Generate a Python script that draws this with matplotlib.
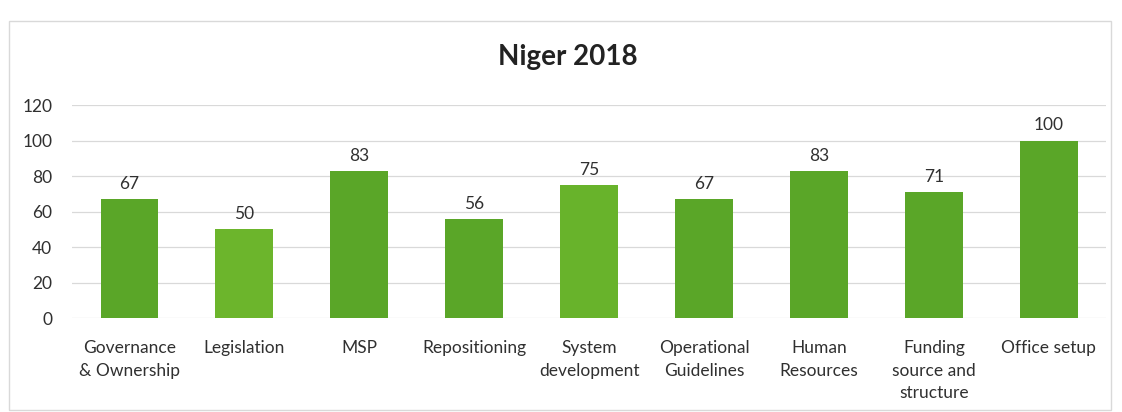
import matplotlib
matplotlib.use("Agg")
import matplotlib.pyplot as plt
from matplotlib.patches import Rectangle

categories = [
    "Governance\n& Ownership", "Legislation", "MSP", "Repositioning",
    "System\ndevelopment", "Operational\nGuidelines", "Human\nResources",
    "Funding\nsource and\nstructure", "Office setup",
]
values = [67, 50, 83, 56, 75, 67, 83, 71, 100]
yticks = [0, 20, 40, 60, 80, 100, 120]
title = "Niger 2018"

plt.rcParams["font.family"] = ["Lato", "DejaVu Sans"]

fig = plt.figure(figsize=(11.22, 4.12), dpi=100)
fig.patch.set_facecolor("white")

# outer chart frame
fig.add_artist(Rectangle((0.008, 0.005), 0.982, 0.945, transform=fig.transFigure,
                         fill=False, edgecolor="#d9d9d9", linewidth=1.0))

ax = fig.add_axes([0.064, 0.228, 0.922, 0.517])
colors = ["#5aa628", "#6cb52c", "#5aa628", "#5aa628", "#68b32b",
          "#5aa628", "#5aa628", "#5aa628", "#5aa628"]
x = range(len(categories))
bars = ax.bar(x, values, width=0.5, color=colors, zorder=3)

for xi, v in zip(x, values):
    ax.text(xi, v + 4, str(v), ha="center", va="bottom", fontsize=12.5, color="#303030")

ax.set_ylim(0, 120)
ax.set_xlim(-0.5, len(categories) - 0.5)
ax.set_yticks(yticks)
ax.set_yticklabels([str(t) for t in yticks], fontsize=12.5, color="#303030")
ax.set_xticks(list(x))
ax.set_xticklabels(categories, fontsize=12.5, color="#303030", linespacing=1.5)
ax.tick_params(axis="both", length=0)
ax.tick_params(axis="y", pad=14)
ax.tick_params(axis="x", pad=16)
ax.grid(axis="y", color="#d9d9d9", linewidth=0.9, zorder=0)
for s in ax.spines.values():
    s.set_visible(False)

fig.text(0.506, 0.862, title, ha="center", va="center", fontsize=20,
         fontweight="bold", color="#222222")

fig.savefig("out.png", dpi=100, facecolor="white")
